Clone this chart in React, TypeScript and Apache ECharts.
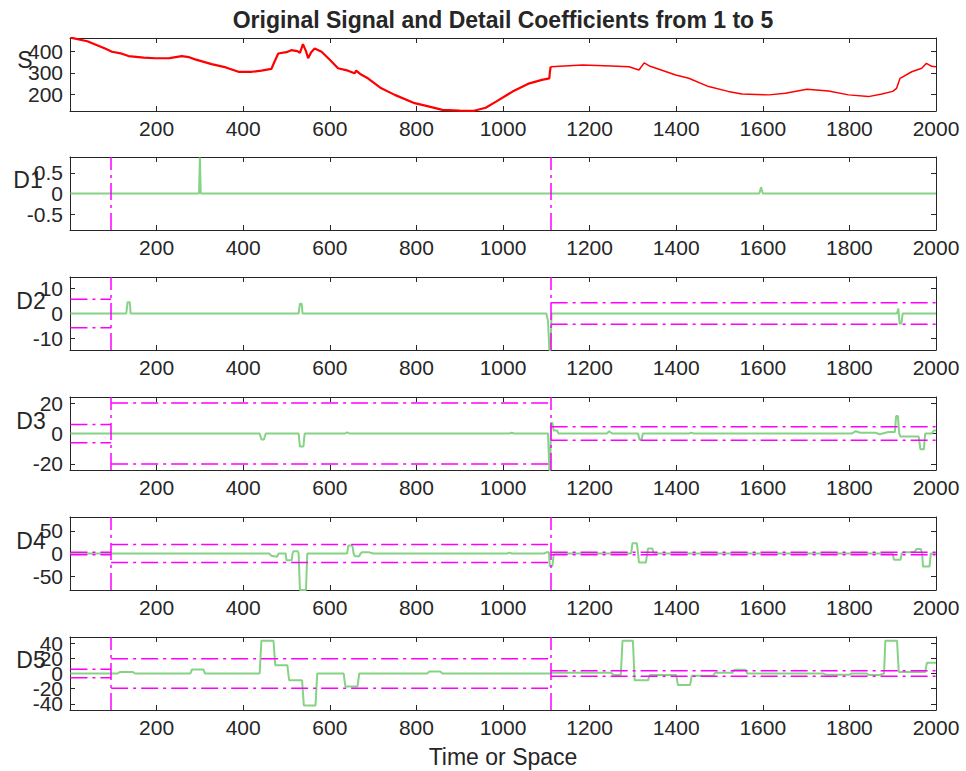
import React, { useEffect, useRef } from 'react';
import * as echarts from 'echarts';

// ---------- text ----------
const TITLE = 'Original Signal and Detail Coefficients from 1 to 5';
const X_LABEL = 'Time or Space';
const panelNames = ['S', 'D1', 'D2', 'D3', 'D4', 'D5'];

// ---------- axes ----------
const X_MIN = 0;
const X_MAX = 2000;
const X_INTERVAL = 200;
const yLimits: [number, number][] = [
  [125, 460],
  [-0.88, 0.88],
  [-14.5, 14.5],
  [-24, 24],
  [-81, 81],
  [-48, 48],
];
const yTicks: number[][] = [
  [200, 300, 400],
  [-0.5, 0, 0.5],
  [-10, 0, 10],
  [-20, 0, 20],
  [-50, 0, 50],
  [-40, -20, 0, 20, 40],
];

// ---------- original signal (key points) ----------
const signalNoisy: [number, number][] = [
  [1, 462], [40, 445], [81, 412], [97, 397], [120, 388], [135, 377], [170, 370],
  [197, 367], [230, 368], [258, 377], [275, 372], [289, 362], [327, 340], [360, 325],
  [389, 305], [420, 305], [442, 310], [465, 318], [472, 350], [481, 389], [500, 395],
  [511, 404], [525, 400], [531, 392], [538, 432], [545, 400], [550, 367], [557, 395],
  [565, 412], [581, 397], [600, 360], [619, 321], [642, 310], [657, 298], [661, 310],
  [670, 295], [688, 275], [719, 229], [750, 199], [796, 161], [830, 145], [860, 130],
  [900, 127], [933, 126], [960, 140], [984, 168], [1022, 214], [1061, 252], [1090, 268],
  [1107, 275], [1108, 300], [1110, 328],
];
const signalSmooth: [number, number][] = [
  [1110, 328], [1184, 336], [1250, 332], [1291, 328], [1314, 313], [1326, 346],
  [1340, 330], [1399, 290], [1429, 275], [1475, 237], [1520, 215], [1552, 203],
  [1614, 199], [1652, 206], [1702, 225], [1752, 217], [1798, 199], [1844, 191],
  [1875, 203], [1900, 215], [1909, 229], [1917, 275], [1944, 305], [1967, 321],
  [1978, 344], [1990, 330], [2000, 328],
];

// ---------- detail coefficients ----------
const detailD1: [number, number][] = [
  [1, 0], [298, 0], [300, 0.87], [302, 0], [1592, 0], [1596, 0.15], [1600, 0], [2000, 0],
];
const detailD2: [number, number][] = [
  [1, 0], [130, 0], [133, 4.5], [138, 4.5], [140, 0], [528, 0], [531, 3.9], [535, 3.9],
  [537, 0], [1100, 0], [1104, -3], [1107, -14.5], [1110, -14.5], [1112, 0], [1910, 0],
  [1913, 2], [1916, -4], [1920, -4], [1923, 0], [2000, 0],
];
const detailD3: [number, number][] = [
  [1, 0], [438, 0], [442, -3.9], [448, -3.9], [452, 0], [528, 0], [531, -8.6], [539, -8.6],
  [542, 0], [636, 0], [640, 0.8], [645, 0], [1015, 0], [1020, 0.5], [1025, 0], [1104, 0],
  [1107, -24], [1109, -24], [1111, 7], [1114, 7], [1117, 2], [1125, 2], [1128, 0],
  [1240, 0], [1245, 1.5], [1252, 0], [1312, 0], [1315, -4], [1320, -4], [1323, 0],
  [1430, 0], [1435, 0.6], [1440, 0], [1805, 0], [1815, 1.5], [1825, 0.5], [1860, 0.5],
  [1870, -0.5], [1890, 1], [1905, 1], [1908, 11.5], [1912, 11.5], [1915, 0], [1918, -2],
  [1925, -2], [1960, -2], [1964, -10.4], [1972, -10.4], [1975, 0], [1990, 0], [1995, 2],
  [2000, 2],
];
const detailD4: [number, number][] = [
  [1, 0], [460, 0], [465, -5], [478, -7], [482, 0], [498, 0], [500, -15], [512, -15],
  [514, 0], [516, 5], [526, 5], [528, 0], [531, -81], [545, -81], [548, 0], [640, 0],
  [643, 18], [652, 18], [655, 0], [658, -6], [668, -6], [671, 0], [675, 3], [690, 3],
  [700, 0], [1010, 0], [1015, 2], [1020, 0], [1095, 0], [1102, 3], [1106, 3],
  [1108, -28], [1114, -28], [1117, -3], [1120, 0], [1296, 0], [1299, 23], [1309, 23],
  [1312, 0], [1314, -20], [1330, -20], [1333, 0], [1335, 11], [1345, 11], [1348, 0],
  [1900, 0], [1903, -14], [1918, -14], [1921, 0], [1925, 3], [1950, 3], [1955, 10],
  [1965, 10], [1968, 0], [1970, -29], [1985, -29], [1988, 0], [2000, 0],
];
const detailD5: [number, number][] = [
  [1, 0], [110, 0], [115, 2], [145, 2], [150, 0], [278, 0], [282, 5.3], [308, 5.3],
  [312, 0], [438, 0], [442, 43], [470, 43], [474, 11], [502, 11], [506, -9], [536, -9],
  [540, -42], [567, -42], [571, 0], [632, 0], [636, -17], [664, -17], [668, 0], [825, 0],
  [830, 2.5], [855, 2.5], [860, 0], [1110, 0], [1113, 1], [1250, 1], [1255, -2],
  [1272, -2], [1276, 43], [1300, 43], [1304, -9], [1335, -9], [1339, -2], [1400, -2],
  [1404, -15], [1432, -15], [1436, -3], [1485, -3], [1490, 1], [1530, 1], [1534, 5],
  [1560, 5], [1564, 0], [1740, 0], [1745, -1.5], [1800, -1.5], [1805, 0], [1840, 0],
  [1845, -2], [1870, -2], [1880, 0], [1883, 43], [1910, 43], [1914, 2], [1975, 2],
  [1979, 14], [2000, 14],
];
const details = [detailD1, detailD2, detailD3, detailD4, detailD5];

// ---------- interval-dependent thresholds ----------
const intervalBounds = [1, 95, 1110, 2000];
const thrD1: (number | null)[] = [null, null, null];
const thrD2: (number | null)[] = [5.7, null, 4.3];
const thrD3: (number | null)[] = [6, 20, 4.5];
const thrD4: (number | null)[] = [3, 20, 3];
const thrD5: (number | null)[] = [5.5, 19.5, 3.5];
const thresholds = [thrD1, thrD2, thrD3, thrD4, thrD5];

// ---------- styling / layout ----------
const FONT = '"Liberation Sans", Arial, Helvetica, sans-serif';
const AX = '#262626';
const RED = '#ff0000';
const GREEN = '#86d386';
const MAGENTA = '#ff00ff';
const DASHDOT = [17, 5, 3, 5];
const PLOT_LEFT = 70;
const PLOT_WIDTH = 866;
const PANEL_TOPS = [38, 157, 277, 397, 517, 637];
const PANEL_H = 73;
const LABEL_POS: [number, number][] = [
  [25, 60], [28, 180], [31, 301], [31, 421], [31, 541], [31, 660],
];

const plain = (v: number) => String(v);

function buildOption() {
  const grid = PANEL_TOPS.map((t) => ({ left: PLOT_LEFT, top: t, width: PLOT_WIDTH, height: PANEL_H, show: false }));
  const xAxis: any[] = [];
  const yAxis: any[] = [];
  const mainX: number[] = [];
  const mainY: number[] = [];
  PANEL_TOPS.forEach((_, i) => {
    const base = {
      type: 'value', gridIndex: i, min: X_MIN, max: X_MAX, interval: X_INTERVAL,
      axisLine: { show: true, onZero: false, lineStyle: { color: AX, width: 1 } },
      axisTick: { show: true, inside: true, length: 5, lineStyle: { color: AX } },
      splitLine: { show: false },
    };
    mainX.push(xAxis.length);
    xAxis.push({
      ...base, position: 'bottom',
      axisLabel: {
        show: true, showMinLabel: false, showMaxLabel: true, hideOverlap: false, formatter: plain,
        margin: 7, color: AX, fontSize: 21, fontFamily: FONT,
      },
    });
    xAxis.push({ ...base, position: 'top', axisLabel: { show: false } });

    const [ymin, ymax] = yLimits[i];
    const ticks = yTicks[i];
    // labels split over two coincident left axes so none of them is auto-hidden
    const evenTicks = ticks.filter((_, k) => k % 2 === 0);
    const oddTicks = ticks.filter((_, k) => k % 2 === 1);
    const ybase = {
      type: 'value', gridIndex: i, min: ymin, max: ymax,
      axisLine: { show: true, onZero: false, lineStyle: { color: AX, width: 1 } },
      axisTick: { show: true, inside: true, length: 5, customValues: ticks, lineStyle: { color: AX } },
      splitLine: { show: false },
    };
    const lbl = {
      show: true, showMinLabel: true, showMaxLabel: true, hideOverlap: false,
      formatter: plain, margin: 7, color: AX, fontSize: 21, fontFamily: FONT,
    };
    mainY.push(yAxis.length);
    yAxis.push({ ...ybase, position: 'left', axisLabel: { ...lbl, customValues: evenTicks } });
    yAxis.push({ ...ybase, position: 'right', axisLabel: { show: false } });
    if (oddTicks.length) {
      yAxis.push({
        ...ybase, position: 'left', offset: 0,
        axisLine: { show: false, onZero: false },
        axisTick: { show: false },
        axisLabel: { ...lbl, customValues: oddTicks },
      });
    }
  });

  const series: any[] = [];
  series.push({
    type: 'line', xAxisIndex: mainX[0], yAxisIndex: mainY[0], data: signalNoisy, showSymbol: false,
    lineStyle: { color: RED, width: 2.2 }, z: 3,
  });
  series.push({
    type: 'line', xAxisIndex: mainX[0], yAxisIndex: mainY[0], data: signalSmooth, showSymbol: false,
    lineStyle: { color: RED, width: 1.5 }, z: 3,
  });
  details.forEach((d, k) => {
    const p = k + 1;
    series.push({
      type: 'line', xAxisIndex: mainX[p], yAxisIndex: mainY[p], data: d, showSymbol: false,
      lineStyle: { color: GREEN, width: 2 }, z: 2,
      markLine: {
        silent: true, symbol: ['none', 'none'], label: { show: false }, animation: false,
        lineStyle: { color: MAGENTA, type: DASHDOT, width: 1.5 },
        data: intervalBounds.slice(1, intervalBounds.length - 1).map((v) => ({ xAxis: v })),
      },
    });
    thresholds[k].forEach((t, j) => {
      if (t === null) return;
      [t, -t].forEach((v) => {
        series.push({
          type: 'line', xAxisIndex: mainX[p], yAxisIndex: mainY[p],
          data: [[intervalBounds[j], v], [intervalBounds[j + 1], v]],
          showSymbol: false, lineStyle: { color: MAGENTA, type: DASHDOT, width: 1.5 }, z: 4,
        });
      });
    });
  });

  const graphic: any[] = [
    {
      type: 'text', x: PLOT_LEFT + PLOT_WIDTH / 2, y: 20,
      style: { text: TITLE, fill: AX, font: `bold 23px ${FONT}`, textAlign: 'center', textVerticalAlign: 'middle' },
    },
    {
      type: 'text', x: PLOT_LEFT + PLOT_WIDTH / 2, y: 757,
      style: { text: X_LABEL, fill: AX, font: `23px ${FONT}`, textAlign: 'center', textVerticalAlign: 'middle' },
    },
    ...panelNames.map((n, i) => ({
      type: 'text', x: LABEL_POS[i][0], y: LABEL_POS[i][1],
      style: { text: n, fill: AX, font: `23px ${FONT}`, textAlign: 'center', textVerticalAlign: 'middle' },
    })),
  ];

  return {
    animation: false,
    backgroundColor: '#ffffff',
    grid, xAxis, yAxis, series, graphic,
  };
}

export default function App() {
  const ref = useRef<HTMLDivElement>(null);
  useEffect(() => {
    const chart = echarts.init(ref.current!, null, { renderer: 'svg' });
    chart.setOption(buildOption() as any);
    return () => chart.dispose();
  }, []);
  return (
    <div
      ref={ref}
      style={{ position: 'fixed', left: 0, top: 0, width: 966, height: 771, background: '#fff' }}
    />
  );
}
